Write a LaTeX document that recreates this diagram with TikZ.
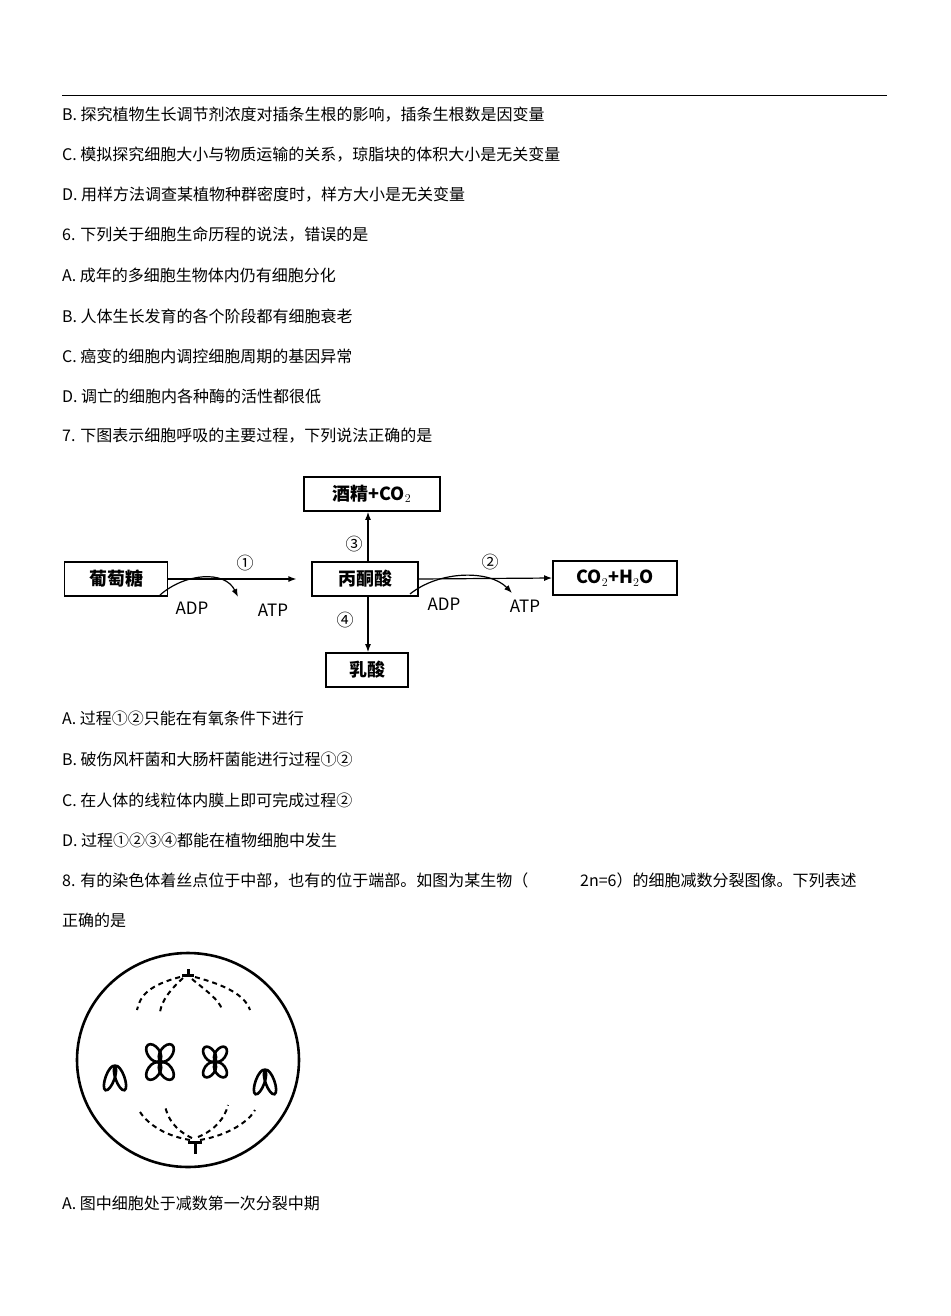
\documentclass[tikz,border=0pt]{standalone}
\usepackage{fontspec}
\setmainfont{Noto Sans CJK SC}
\usetikzlibrary{arrows.meta}
\begin{document}
\begin{tikzpicture}[x=1pt,y=-1pt,
  txt/.style={anchor=west,font=\fontsize{16}{18}\selectfont,inner sep=0},
  bx/.style={draw,line width=1.8pt,minimum height=34,inner sep=4,font=\fontsize{18}{20}\selectfont\bfseries},
  lb/.style={font=\fontsize{17}{19}\selectfont},
  ar/.style={line width=1.2pt,-{Latex[length=8pt,width=6pt]}},
  chrom/.style={line width=2.6pt},
  sp/.style={dashed,dash pattern=on 5pt off 4pt,line width=2pt}]
\useasboundingbox (0,0) rectangle (950,1316);
\draw[line width=0.8pt] (62,95) -- (887,95);
\node[txt] (l1) at (62,115) {B. 探究植物生长调节剂浓度对插条生根的影响，插条生根数是因变量};
\node[txt] (l2) at (62,155) {C. 模拟探究细胞大小与物质运输的关系，琼脂块的体积大小是无关变量};
\node[txt] (l3) at (62,195) {D. 用样方法调查某植物种群密度时，样方大小是无关变量};
\node[txt] (l4) at (62,235) {6. 下列关于细胞生命历程的说法，错误的是};
\node[txt] (l5) at (62,275) {A. 成年的多细胞生物体内仍有细胞分化};
\node[txt] (l6) at (62,316) {B. 人体生长发育的各个阶段都有细胞衰老};
\node[txt] (l7) at (62,356) {C. 癌变的细胞内调控细胞周期的基因异常};
\node[txt] (l8) at (62,396) {D. 调亡的细胞内各种酶的活性都很低};
\node[txt] (l9) at (62,436) {7. 下图表示细胞呼吸的主要过程，下列说法正确的是};
% diagram
\node[bx,minimum width=103] (glu) at (116,579) {葡萄糖};
\node[bx,minimum width=106] (pyr) at (365,579) {丙酮酸};
\node[bx,minimum width=136] (alc) at (372,494) {酒精+CO$_2$};
\node[bx,minimum width=124] (co2) at (615,578) {CO$_2$+H$_2$O};
\node[bx,minimum width=82] (lac) at (367,670) {乳酸};
\draw[ar] (glu.east) -- ++(128,0);
\draw[ar] (pyr.east) -- (co2.west);
\draw[ar] (pyr.north-|368,0) -- (alc.south-|368,0);
\draw[ar] (pyr.south-|368,0) -- (lac.north-|368,0);
\node[lb] (n1) at (245,563) {①};
\node[lb] (n2) at (490,562) {②};
\node[lb] (n3) at (354,544) {③};
\node[lb] (n4) at (345,620) {④};
\node[lb] (adp1) at (192,608) {ADP};
\node[lb] (atp1) at (273,610) {ATP};
\node[lb] (adp2) at (444,604) {ADP};
\node[lb] (atp2) at (525,606) {ATP};
\coordinate (c1s) at (160,595); \coordinate (c1e) at (238,597);
\draw[ar] (c1s) .. controls (185,573) and (225,570) .. (c1e);
\coordinate (c2s) at (410,594); \coordinate (c2e) at (512,593);
\draw[ar] (c2s) .. controls (440,570) and (490,570) .. (c2e);
\node[txt] (a7) at (62,718) {A. 过程①②只能在有氧条件下进行};
\node[txt] (b7) at (62,759) {B. 破伤风杆菌和大肠杆菌能进行过程①②};
\node[txt] (c7) at (62,800) {C. 在人体的线粒体内膜上即可完成过程②};
\node[txt] (d7) at (62,840) {D. 过程①②③④都能在植物细胞中发生};
\node[txt] (q8a) at (62,880) {8. 有的染色体着丝点位于中部，也有的位于端部。如图为某生物（};
\node[txt] (q8b) at (580,880) {2n=6）的细胞减数分裂图像。下列表述};
\node[txt] (q8c) at (62,920) {正确的是};
% cell
\draw[line width=2.6pt] (188,1060) ellipse (111 and 107);
\draw[line width=3pt] (182,975) -- (194,975) (188,975) -- (188,969);
\draw[line width=3pt] (188,1142) -- (202,1142) (195,1142) -- (195,1154);
\draw[sp] (180,977) .. controls (150,985) and (140,995) .. (137,1010);
\draw[sp] (183,978) .. controls (170,990) and (162,1000) .. (160,1012);
\draw[sp] (195,977) .. controls (225,985) and (245,995) .. (250,1010);
\draw[sp] (192,979) .. controls (205,990) and (220,1000) .. (222,1010);
\draw[sp] (190,1140) .. controls (160,1135) and (145,1120) .. (140,1112);
\draw[sp] (192,1138) .. controls (175,1130) and (167,1118) .. (165,1105);
\draw[sp] (200,1140) .. controls (230,1135) and (250,1120) .. (255,1110);
\draw[sp] (198,1137) .. controls (215,1130) and (225,1118) .. (228,1105);
% chromosomes
\foreach \cx/\cy in {115/1078, 265/1082}{
  \draw[chrom,rotate around={-20:(\cx-5,\cy)}] (\cx-5,\cy) ellipse (4.5 and 13);
  \draw[chrom,rotate around={20:(\cx+5,\cy)}] (\cx+5,\cy) ellipse (4.5 and 13);
}
\foreach \cx/\cy/\s in {160/1062/1.1, 215/1062/0.95}{
  \foreach \a in {55,125,235,305}{
    \draw[chrom,rotate around={\a:(\cx,\cy)}] ({\cx+10*\s},\cy) ellipse ({9*\s} and {5.5*\s});
  }
}
\node[txt] (a8) at (62,1203) {A. 图中细胞处于减数第一次分裂中期};
\end{tikzpicture}
\end{document}
